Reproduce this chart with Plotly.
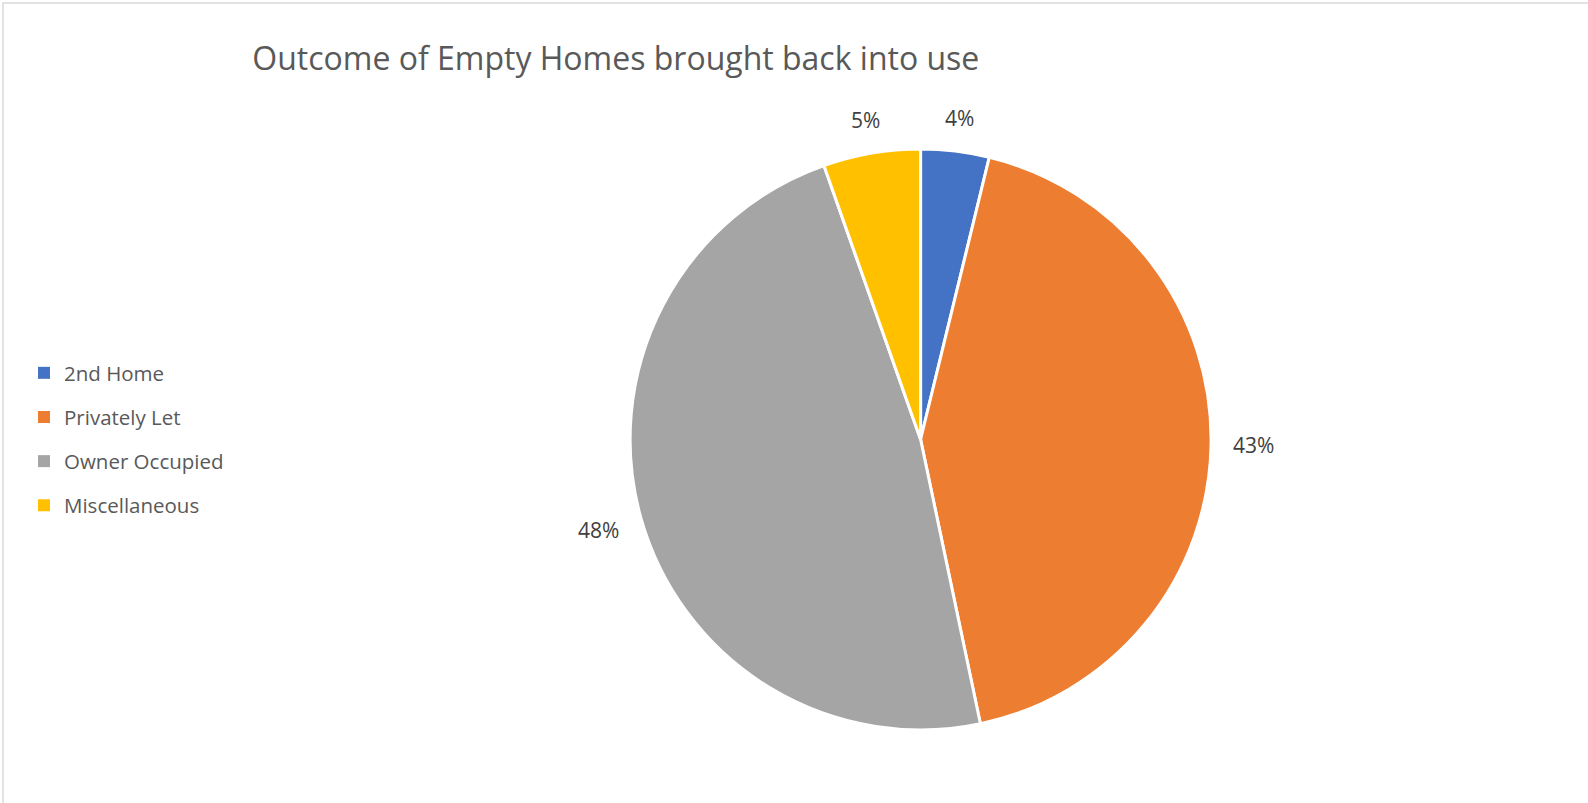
import math
import plotly.graph_objects as go

categories = ["2nd Home", "Privately Let", "Owner Occupied", "Miscellaneous"]
values = [3.8, 42.9, 47.9, 5.4]
colors = ["#4472C4", "#ED7D31", "#A5A5A5", "#FFC000"]
title_text = "Outcome of Empty Homes brought back into use"

W, H = 1588, 803
FONT = "Open Sans"

cx, cy, half = 920.6, 439.5, 290.5
R = 289.0        # rendered pie radius (px)
GAP = 23.0       # gap between pie edge and label box (px)
LBL_SIZE = 21

fig = go.Figure()
fig.add_trace(go.Pie(
    labels=categories, values=values, sort=False, direction="clockwise", rotation=0,
    marker=dict(colors=colors, line=dict(color="white", width=3)),
    textinfo="none",
    showlegend=False, hoverinfo="label+percent",
    domain=dict(x=[(cx - half) / W, (cx + half) / W], y=[(H - cy - half) / H, (H - cy + half) / H]),
))

# data labels placed outside each slice, from the values
total = sum(values)
cum = 0.0
annotations = []
for v in values:
    mid = (cum + v / 2) / total * 2 * math.pi
    cum += v
    txt = f"{v / total:.0%}"
    dx, dy = math.sin(mid), -math.cos(mid)
    hw, hh = len(txt) * 6.9, 10.0
    dist = R + GAP + abs(dx) * hw + abs(dy) * hh
    px, py = cx + dx * dist, cy + dy * dist
    annotations.append(dict(x=px / W, y=1 - py / H, xref="paper", yref="paper", text=txt,
                            showarrow=False, xanchor="center", yanchor="middle",
                            font=dict(family=FONT, size=LBL_SIZE, color="#404040")))

# legend entries
for c, col in zip(categories, colors):
    fig.add_trace(go.Scatter(
        x=[None], y=[None], mode="markers", name=c, legendgroup=c,
        marker=dict(symbol="square", size=9, color=col), hoverinfo="skip",
    ))

fig.update_layout(
    width=W, height=H,
    margin=dict(l=0, r=0, t=0, b=0),
    paper_bgcolor="white", plot_bgcolor="white",
    xaxis=dict(visible=False), yaxis=dict(visible=False),
    title=dict(text=title_text, x=615.8 / W, xanchor="center", y=1 - 58.7 / H, yanchor="middle",
               font=dict(family=FONT, size=32, color="#595959")),
    legend=dict(x=24 / W, xanchor="left", y=1 - 353 / H, yanchor="top",
                font=dict(family=FONT, size=20.5, color="#595959"),
                tracegroupgap=14.5, itemsizing="constant", bgcolor="rgba(0,0,0,0)"),
    annotations=annotations,
    shapes=[dict(type="rect", xref="paper", yref="paper", x0=3 / W, x1=1.05, y0=-0.05, y1=1 - 3 / H,
                 line=dict(color="#D9D9D9", width=1.5), fillcolor="rgba(0,0,0,0)", layer="below")],
)

fig.write_html("out.html", config={"displayModeBar": False},
               post_script="document.body.style.margin='0';")
